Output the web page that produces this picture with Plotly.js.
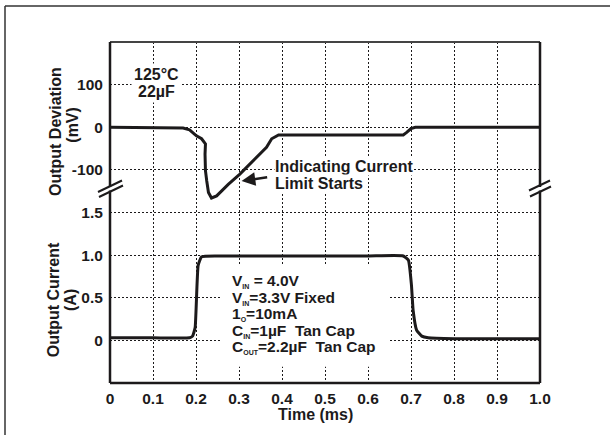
<!DOCTYPE html>
<html><head><meta charset="utf-8">
<script src="https://cdn.plot.ly/plotly-3.0.1.min.js"></script>
<style>html,body{margin:0;padding:0;background:#fff}#chart{width:610px;height:435px}</style>
</head><body><div id="chart"></div>
<script>
// Output deviation (mV) vs time (ms)
const timeDev = [0, 0.10, 0.17, 0.185, 0.201, 0.213, 0.222, 0.221, 0.222, 0.225, 0.229, 0.236, 0.248, 0.275, 0.302, 0.364, 0.376, 0.392, 0.50, 0.60, 0.682, 0.690, 0.700, 0.710, 0.80, 0.90, 1.0];
const devMv   = [0, -1, -2, -6, -20, -27, -39, -63, -102, -126, -153, -166, -161, -134, -110, -47, -27, -18, -18, -18, -18, -12, -3, 0, 0, 0, 0];
// Output current (A) vs time (ms)
const timeCur = [0, 0.10, 0.185, 0.192, 0.198, 0.205, 0.213, 0.25, 0.40, 0.60, 0.682, 0.694, 0.701, 0.705, 0.713, 0.725, 0.740, 0.80, 0.90, 1.0];
const curA    = [0.03, 0.03, 0.03, 0.05, 0.15, 0.88, 0.98, 0.99, 0.99, 0.99, 0.99, 0.94, 0.65, 0.35, 0.12, 0.05, 0.03, 0.02, 0.02, 0.02];
// Tick labels
const xTickVals = [0, 0.1, 0.2, 0.3, 0.4, 0.5, 0.6, 0.7, 0.8, 0.9, 1.0];
const xTickText = ['0', '0.1', '0.2', '0.3', '0.4', '0.5', '0.6', '0.7', '0.8', '0.9', '1.0'];
const devTickVals = [-100, 0, 100];
const devTickText = ['-100', '0', '100'];
const curTickVals = [0, 0.5, 1.0, 1.5];
const curTickText = ['0', '0.5', '1.0', '1.5'];
// Notes
const condLines = [
  'V<sub><span style="font-size:7px">IN</span></sub> = 4.0V',
  'V<sub><span style="font-size:7px">IN</span></sub>=3.3V Fixed',
  '1<sub><span style="font-size:7px">O</span></sub>=10mA',
  'C<sub><span style="font-size:7px">IN</span></sub>=1µF  Tan Cap',
  'C<sub><span style="font-size:7px">OUT</span></sub>=2.2µF  Tan Cap'
];

const INK = '#1c1a1b';
const FONT = 'Liberation Sans, Arial, Helvetica, sans-serif';

const traces = [
  {x: timeDev, y: devMv, xaxis: 'x', yaxis: 'y', type: 'scatter', mode: 'lines',
   line: {color: INK, width: 3}, hoverinfo: 'skip'},
  {x: timeCur, y: curA, xaxis: 'x', yaxis: 'y2', type: 'scatter', mode: 'lines',
   line: {color: INK, width: 3, shape: 'spline', smoothing: 0.4}, hoverinfo: 'skip'}
];

const gridCommon = {showgrid: true, gridcolor: INK, gridwidth: 1, griddash: '2px,2px',
  zeroline: false, showline: false, ticks: 'outside', tickcolor: 'rgba(0,0,0,0)',
  tickfont: {family: FONT, size: 15.5, color: INK, weight: 'bold'}, fixedrange: true};

function px2py(py) { return (383 - py) / 341; }
function px2px(px) { return (px - 110) / 430; }

const shapes = [
  // outer frame
  {type: 'line', xref: 'paper', yref: 'paper', x0: px2px(5), x1: px2px(5), y0: px2py(6), y1: px2py(445), line: {color: '#333', width: 1.5}},
  {type: 'line', xref: 'paper', yref: 'paper', x0: px2px(5), x1: px2px(620), y0: px2py(6), y1: px2py(6), line: {color: '#333', width: 1.5}},
  // plot border
  {type: 'line', xref: 'paper', yref: 'paper', x0: 0, x1: 1, y0: 1, y1: 1, line: {color: '#444', width: 2}, layer: 'above'},
  {type: 'line', xref: 'paper', yref: 'paper', x0: 0, x1: 0, y0: 0, y1: 1, line: {color: INK, width: 2.5}, layer: 'above'},
  {type: 'line', xref: 'paper', yref: 'paper', x0: 1, x1: 1, y0: 0, y1: 1, line: {color: INK, width: 2.5}, layer: 'above'},
  {type: 'line', xref: 'paper', yref: 'paper', x0: 0, x1: 1, y0: 0, y1: 0, line: {color: INK, width: 2.5}, layer: 'above'},
  // white gaps at axis break
  {type: 'rect', xref: 'paper', yref: 'paper', x0: px2px(106), x1: px2px(114), y0: px2py(190.5), y1: px2py(187), fillcolor: '#fff', line: {width: 0}, layer: 'above'},
  {type: 'rect', xref: 'paper', yref: 'paper', x0: px2px(536), x1: px2px(544), y0: px2py(190.5), y1: px2py(187), fillcolor: '#fff', line: {width: 0}, layer: 'above'},
  // break marks
  {type: 'line', xref: 'paper', yref: 'paper', x0: px2px(98), x1: px2px(122), y0: px2py(192), y1: px2py(180.5), line: {color: INK, width: 2}, layer: 'above'},
  {type: 'line', xref: 'paper', yref: 'paper', x0: px2px(99), x1: px2px(123), y0: px2py(197), y1: px2py(185.5), line: {color: INK, width: 2}, layer: 'above'},
  {type: 'line', xref: 'paper', yref: 'paper', x0: px2px(529), x1: px2px(550), y0: px2py(190.5), y1: px2py(180.5), line: {color: INK, width: 2}, layer: 'above'},
  {type: 'line', xref: 'paper', yref: 'paper', x0: px2px(530), x1: px2px(551), y0: px2py(196.5), y1: px2py(186.5), line: {color: INK, width: 2}, layer: 'above'},
  // white panel behind test conditions
  {type: 'rect', xref: 'x', yref: 'y2', x0: 0.26, x1: 0.647, y0: -0.31, y1: 0.885, fillcolor: '#fff', line: {width: 0}, layer: 'above'}
];

const txt = (s) => ({family: FONT, size: s, color: INK, weight: 'bold'});
const condY = [0.692, 0.496, 0.306, 0.115, -0.081];

const annotations = [
  {xref: 'x', yref: 'y', x: 0.107, y: 124.7, text: '125°C', showarrow: false, font: txt(16), bgcolor: '#fff', borderpad: 2, xanchor: 'center', yanchor: 'middle'},
  {xref: 'x', yref: 'y', x: 0.107, y: 83.5, text: '22µF', showarrow: false, font: txt(16), bgcolor: '#fff', borderpad: 2, xanchor: 'center', yanchor: 'middle'},
  {xref: 'x', yref: 'y', x: 0.381, y: -93, text: 'Indicating Current', showarrow: false, font: txt(16), bgcolor: '#fff', borderpad: 0, xanchor: 'left', yanchor: 'middle'},
  {xref: 'x', yref: 'y', x: 0.381, y: -132, text: 'Limit Starts', showarrow: false, font: txt(16), bgcolor: '#fff', borderpad: 0, xanchor: 'left', yanchor: 'middle'},
  {xref: 'x', yref: 'y', x: 0.306, y: -126, axref: 'x', ayref: 'y', ax: 0.369, ay: -117, text: '', showarrow: true,
   arrowhead: 2, arrowsize: 1.1, arrowwidth: 2.5, arrowcolor: INK, standoff: 0},
  {xref: 'paper', yref: 'paper', x: px2px(55), y: px2py(132), text: 'Output Deviation', textangle: -90, showarrow: false, font: txt(16), xanchor: 'center', yanchor: 'middle'},
  {xref: 'paper', yref: 'paper', x: px2px(71.7), y: px2py(125), text: '(mV)', textangle: -90, showarrow: false, font: txt(16), xanchor: 'center', yanchor: 'middle'},
  {xref: 'paper', yref: 'paper', x: px2px(53.3), y: px2py(300), text: 'Output Current', textangle: -90, showarrow: false, font: txt(16), xanchor: 'center', yanchor: 'middle'},
  {xref: 'paper', yref: 'paper', x: px2px(70), y: px2py(300), text: '(A)', textangle: -90, showarrow: false, font: txt(16), xanchor: 'center', yanchor: 'middle'},
  {xref: 'paper', yref: 'paper', x: px2px(315.7), y: px2py(414), text: 'Time (ms)', showarrow: false, font: txt(16), xanchor: 'center', yanchor: 'middle'}
];
condLines.forEach((s, i) => {
  annotations.push({xref: 'x', yref: 'y2', x: 0.279, y: condY[i], text: s, showarrow: false, font: txt(15.5), xanchor: 'left', yanchor: 'middle'});
});

const layout = {
  width: 610, height: 435,
  margin: {l: 110, r: 70, t: 42, b: 52, pad: 0},
  paper_bgcolor: '#fff', plot_bgcolor: '#fff',
  showlegend: false,
  font: {family: FONT, color: INK},
  xaxis: Object.assign({}, gridCommon, {domain: [0, 1], range: [0, 1], anchor: 'y',
    tickmode: 'array', tickvals: xTickVals, ticktext: xTickText, ticklen: 1}),
  yaxis: Object.assign({}, gridCommon, {domain: [0, 1], range: [-600, 200], anchor: 'x',
    tickmode: 'array', tickvals: devTickVals, ticktext: devTickText, ticklen: 3}),
  yaxis2: Object.assign({}, gridCommon, {range: [-0.5, 3.5], anchor: 'x', overlaying: 'y', side: 'left',
    tickmode: 'array', tickvals: curTickVals, ticktext: curTickText, ticklen: 3}),
  shapes: shapes,
  annotations: annotations
};

Plotly.newPlot('chart', traces, layout, {staticPlot: true, displayModeBar: false});
</script>
</body></html>
